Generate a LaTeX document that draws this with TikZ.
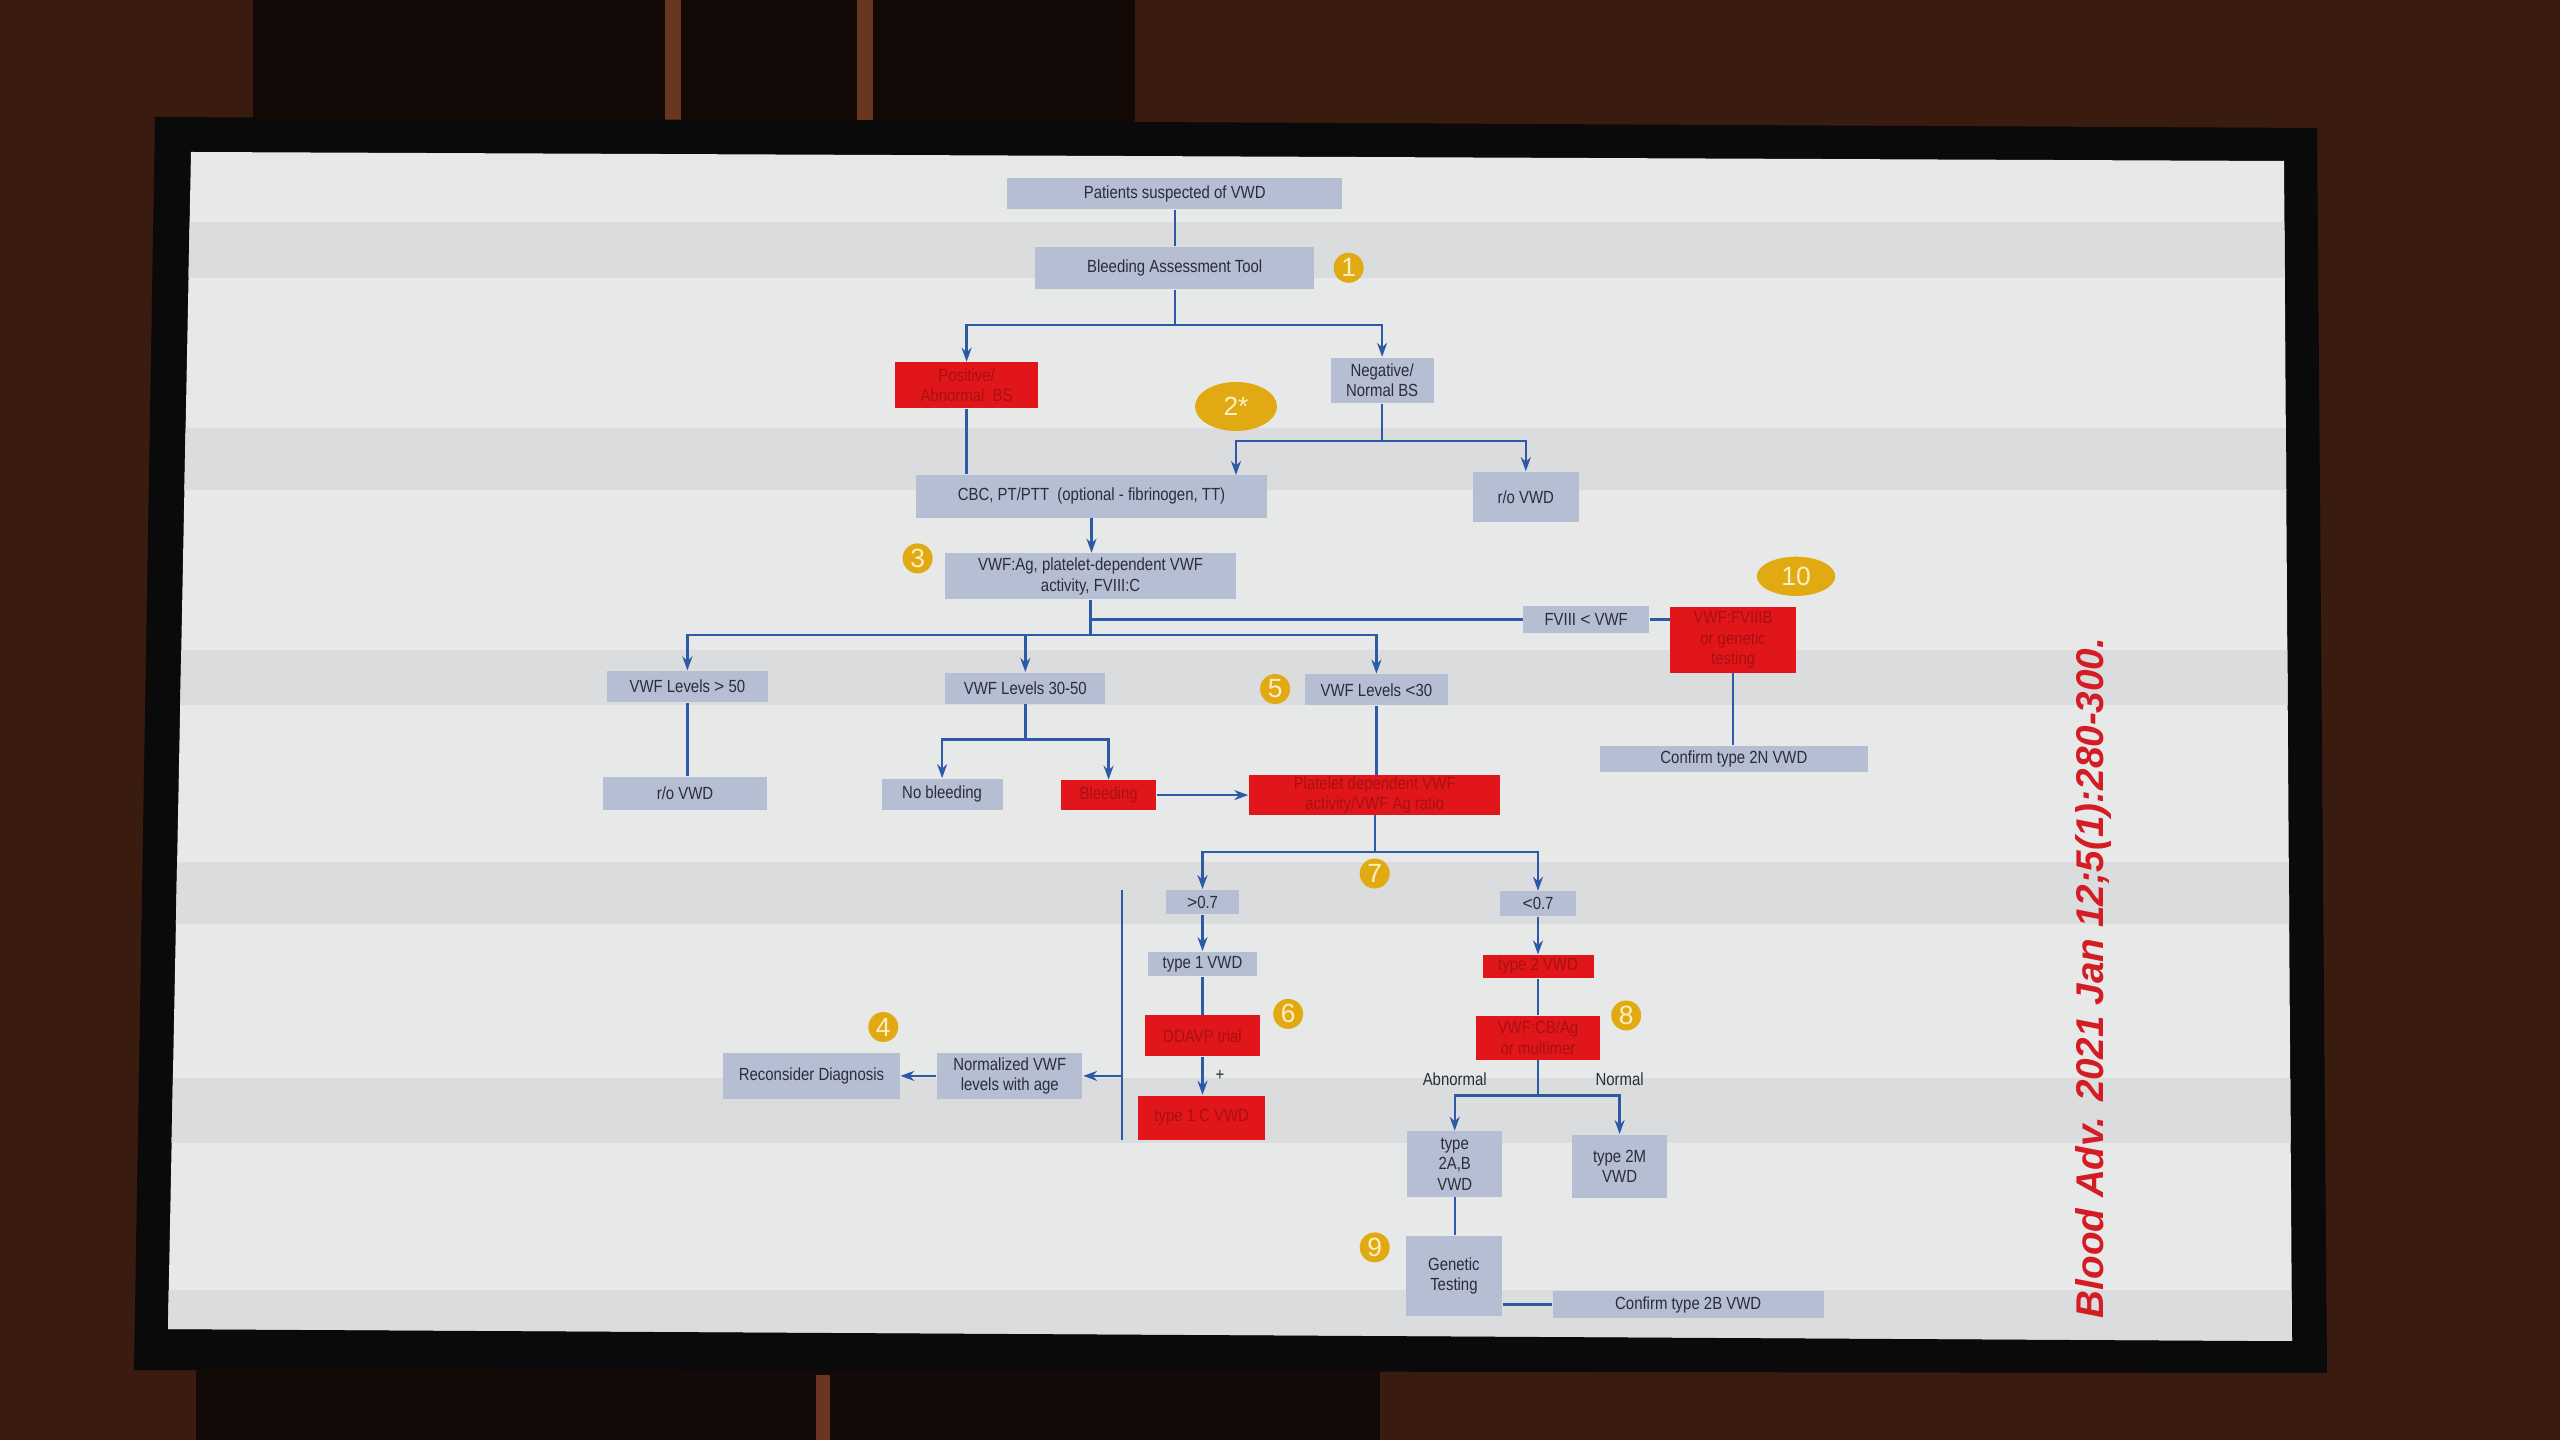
\documentclass[tikz,border=0pt]{standalone}
\usepackage{fontspec}
\usetikzlibrary{arrows.meta,shapes.geometric}
\newfontfamily\chartfont[FakeStretch=0.85]{Liberation Sans}
\newfontfamily\citefont{Liberation Sans}
\definecolor{wallbrown}{HTML}{3A1B10}
\definecolor{walldark}{HTML}{130A08}
\definecolor{wallstrip}{HTML}{6A3620}
\definecolor{bezel}{HTML}{0B0A0A}
\definecolor{screen}{HTML}{E7E9E9}
\definecolor{band}{HTML}{DADCDD}
\definecolor{boxfill}{HTML}{B6BED3}
\definecolor{boxtext}{HTML}{2A2D3A}
\definecolor{redfill}{HTML}{E0161A}
\definecolor{redtext}{HTML}{A81012}
\definecolor{linkblue}{HTML}{2D5AA6}
\definecolor{badgefill}{HTML}{E1AA12}
\definecolor{badgetext}{HTML}{FCEFC4}
\definecolor{citered}{HTML}{D41C24}
\tikzset{
  wbox/.style={fill=boxfill, text=boxtext, inner sep=0pt, align=center,
    font=\chartfont\fontsize{5}{5.8}\selectfont},
  rbox/.style={wbox, fill=redfill, text=redtext},
  link/.style={draw=linkblue, line width=0.024cm},
  arr/.style={link, -{Stealth[length=0.14cm,width=0.10cm]}},
  badge/.style={circle, fill=badgefill, text=badgetext, inner sep=0pt,
    minimum size=0.30cm, font=\citefont\fontsize{7.5}{8}\selectfont},
  oval/.style={badge, ellipse},
  chartlabel/.style={text=boxtext, inner sep=0pt,
    font=\chartfont\fontsize{5}{5.8}\selectfont},
}
\begin{document}
\begin{tikzpicture}
                \useasboundingbox (0,0) rectangle (25.600000,14.400000);
                
                % Wall behind the monitor
                \fill [wallbrown] (0,0) rectangle (25.600000,14.400000);%
                \fill [walldark] (2.530000,13.100000) rectangle (11.350000,14.400000);%
                \fill [wallstrip] (6.650000,13.200000) rectangle (6.810000,14.400000);%
                \fill [wallstrip] (8.570000,13.200000) rectangle (8.730000,14.400000);%
                \fill [walldark] (1.960000,0) rectangle (13.800000,0.800000);%
                \fill [wallstrip] (8.160000,0) rectangle (8.300000,0.650000);%
                
                % Monitor bezel and screen
                \fill [bezel] (1.550000,13.230000) -- (23.170000,13.120000) -- (23.270000,0.670000) -- (1.340000,0.700000) -- cycle;%
                \fill [screen] (1.910000,12.880000) -- (22.840000,12.790000) -- (22.920000,0.990000) -- (1.680000,1.110000) -- cycle;%
                
                % Moire bands across the screen
                \begin{scope}
                \clip (1.910000,12.880000) -- (22.840000,12.790000) -- (22.920000,0.990000) -- (1.680000,1.110000) -- cycle;%
                \fill [band] (0,11.624000) rectangle (25.600000,12.180000);%
                \fill [band] (0,9.502000) rectangle (25.600000,10.122000);%
                \fill [band] (0,7.347000) rectangle (25.600000,7.902000);%
                \fill [band] (0,5.159000) rectangle (25.600000,5.780000);%
                \fill [band] (0,2.971000) rectangle (25.600000,3.624000);%
                \fill [band] (0,0.990000) rectangle (25.600000,1.502000);%
                \end{scope}
                
                % Marking box Patients
                \node (patients) [wbox, minimum width=3.347cm, minimum height=0.310cm] at (11.747000,12.465000) {Patients suspected of VWD};%
                
                % Marking box Bleeding Assessment Tool
                \node (bat) [wbox, minimum width=2.792cm, minimum height=0.425cm] at (11.747000,11.722000) {Bleeding Assessment Tool};%
                \node (b1) [badge] at (13.486000,11.722000) {1};%
                
                % Marking boxes Positive and Negative
                \node (pos) [rbox, minimum width=1.437cm, minimum height=0.457cm] at (9.666000,10.547000) {Positive/\\Abnormal\ \ BS};%
                \node (neg) [wbox, minimum width=1.029cm, minimum height=0.457cm] at (13.821000,10.596000) {Negative/\\Normal BS};%
                \node (b2) [oval, minimum width=0.820cm, minimum height=0.490cm] at (12.360000,10.335000) {2*};%
                
                % Marking boxes CBC and r/o VWD
                \node (cbc) [wbox, minimum width=3.510cm, minimum height=0.425cm] at (10.915000,9.437000) {CBC, PT/PTT\ \ (optional - fibrinogen, TT)};%
                \coordinate (cbcin) at (12.360000,9.649500);%
                \node (rovwda) [wbox, minimum width=1.061cm, minimum height=0.506cm] at (15.258000,9.428000) {r/o VWD};%
                
                % Marking box VWF:Ag
                \node (ag) [wbox, minimum width=2.906cm, minimum height=0.457cm] at (10.906000,8.637000) {VWF:Ag, platelet-dependent VWF\\activity, FVIII:C};%
                \node (b3) [badge] at (9.176000,8.816000) {3};%
                
                % Marking boxes FVIII < VWF, VWF:FVIIIB and type 2N
                \node (fviii) [wbox, minimum width=1.257cm, minimum height=0.261cm] at (15.862000,8.205000) {FVIII {\fontspec{Liberation Sans}<} VWF};%
                \node (fviiib) [rbox, minimum width=1.257cm, minimum height=0.653cm] at (17.331000,8.000000) {VWF:FVIIIB\\or genetic\\testing};%
                \node (b10) [oval, minimum width=0.784cm, minimum height=0.392cm] at (17.960000,8.637000) {10};%
                \node (confirmn) [wbox, minimum width=2.678cm, minimum height=0.261cm] at (17.339000,6.808000) {Confirm type 2N VWD};%
                
                % Marking boxes VWF Levels
                \node (levhigh) [wbox, minimum width=1.616cm, minimum height=0.310cm] at (6.874000,7.534000) {VWF Levels {\fontspec{Liberation Sans}>} 50};%
                \node (levmid) [wbox, minimum width=1.600cm, minimum height=0.310cm] at (10.253000,7.518000) {VWF Levels 30-50};%
                \node (levlow) [wbox, minimum width=1.437cm, minimum height=0.310cm] at (13.764000,7.502000) {VWF Levels {\fontspec{Liberation Sans}<}30};%
                \node (b5) [badge] at (12.751000,7.510000) {5};%
                
                % Marking boxes of the level outcomes
                \node (rovwdb) [wbox, minimum width=1.633cm, minimum height=0.327cm] at (6.850000,6.465000) {r/o VWD};%
                \node (nobleed) [wbox, minimum width=1.208cm, minimum height=0.310cm] at (9.421000,6.457000) {No bleeding};%
                \node (bleed) [rbox, minimum width=0.947cm, minimum height=0.294cm] at (11.086000,6.449000) {Bleeding};%
                \node (ratio) [rbox, minimum width=2.514cm, minimum height=0.392cm] at (13.747000,6.449000) {Platelet dependent VWF\\activity/VWF Ag ratio};%
                \node (b7) [badge] at (13.747000,5.665000) {7};%
                
                % Marking boxes of the ratio outcomes
                \node (ratiohi) [wbox, minimum width=0.735cm, minimum height=0.245cm] at (12.025000,5.379000) {{\fontspec{Liberation Sans}>}0.7};%
                \node (ratiolo) [wbox, minimum width=0.751cm, minimum height=0.245cm] at (15.380000,5.363000) {{\fontspec{Liberation Sans}<}0.7};%
                \node (typeone) [wbox, minimum width=1.094cm, minimum height=0.245cm] at (12.025000,4.759000) {type 1 VWD};%
                \node (typetwo) [rbox, minimum width=1.110cm, minimum height=0.229cm] at (15.380000,4.734000) {type 2 VWD};%
                \node (ddavp) [rbox, minimum width=1.159cm, minimum height=0.408cm] at (12.025000,4.041000) {DDAVP trial};%
                \node (b6) [badge] at (12.882000,4.261000) {6};%
                \node (cbag) [rbox, minimum width=1.241cm, minimum height=0.441cm] at (15.380000,4.024000) {VWF:CB/Ag\\or multimer};%
                \node (b8) [badge] at (16.262000,4.245000) {8};%
                \node (typeonec) [rbox, minimum width=1.274cm, minimum height=0.441cm] at (12.017000,3.224000) {type 1 C VWD};%
                
                % Marking boxes Reconsider Diagnosis and Normalized
                \node (reconsider) [wbox, minimum width=1.763cm, minimum height=0.457cm] at (8.115000,3.641000) {Reconsider Diagnosis};%
                \node (normal) [wbox, minimum width=1.453cm, minimum height=0.457cm] at (10.098000,3.641000) {Normalized VWF\\levels with age};%
                \node (b4) [badge] at (8.833000,4.130000) {4};%
                \coordinate (bartop) at (11.217000,5.502000);%
                \coordinate (barbot) at (11.217000,3.004000);%
                
                % Marking boxes of type 2
                \node (typeab) [wbox, minimum width=0.947cm, minimum height=0.653cm] at (14.547000,2.759000) {type\\2A,B\\VWD};%
                \node (typem) [wbox, minimum width=0.947cm, minimum height=0.637cm] at (16.196000,2.734000) {type 2M\\VWD};%
                \node (genetic) [wbox, minimum width=0.963cm, minimum height=0.800cm] at (14.539000,1.640000) {Genetic\\Testing};%
                \node (b9) [badge] at (13.747000,1.926000) {9};%
                \node (confirmb) [wbox, minimum width=2.710cm, minimum height=0.261cm] at (16.882000,1.355000) {Confirm type 2B VWD};%
                
                % Drawing the top connectors
                \draw [link] (patients) -- (bat);%
                \coordinate (splita) at (11.747000,11.151000);%
                \draw [link] (bat.south) -- (splita);%
                \draw [arr] (splita) -| (pos.north);%
                \draw [arr] (splita) -| (neg.north);%
                \draw [link] (pos.south) -- (pos.south |- cbc.north);%
                \coordinate (splitb) at (13.821000,9.992000);%
                \draw [link] (neg.south) -- (splitb);%
                \draw [arr] (splitb) -| (cbcin);%
                \draw [arr] (splitb) -| (rovwda.north);%
                \draw [arr] (cbc.south) -- (cbc.south |- ag.north);%
                
                % Drawing the connectors below VWF:Ag
                \coordinate (splitc) at (10.906000,8.049000);%
                \draw [link] (ag.south) -- (splitc);%
                \draw [link] (ag.south |- fviii.west) -- (fviii.west);%
                \draw [link] (fviii.east) -- (fviii.east -| fviiib.west);%
                \draw [link] (fviiib.south) -- (fviiib.south |- confirmn.north);%
                \draw [arr] (splitc) -| (levhigh.north);%
                \draw [arr] (splitc) -| (levmid.north);%
                \draw [arr] (splitc) -| (levlow.north);%
                \draw [link] (levhigh.south) -- (levhigh.south |- rovwdb.north);%
                \coordinate (splitd) at (10.253000,7.004000);%
                \draw [link] (levmid.south) -- (splitd);%
                \draw [arr] (splitd) -| (nobleed.north);%
                \draw [arr] (splitd) -| (bleed.north);%
                \draw [arr] (bleed.east) -- (ratio.west);%
                \draw [link] (levlow.south) -- (levlow.south |- ratio.north);%
                
                % Drawing the connectors below the ratio
                \coordinate (splite) at (13.747000,5.877000);%
                \draw [link] (ratio.south) -- (splite);%
                \draw [arr] (splite) -| (ratiohi.north);%
                \draw [arr] (splite) -| (ratiolo.north);%
                \draw [arr] (ratiohi.south) -- (typeone.north);%
                \draw [link] (typeone.south) -- (ddavp.north);%
                \draw [arr] (ddavp.south) -- (ddavp.south |- typeonec.north) node [chartlabel, midway, right=0.12cm] {+};%
                \draw [arr] (ratiolo.south) -- (typetwo.north);%
                \draw [link] (typetwo.south) -- (cbag.north);%
                \coordinate (splitf) at (15.380000,3.445000);%
                \draw [link] (cbag.south) -- (splitf);%
                \draw [arr] (splitf) -| (typeab.north);%
                \draw [arr] (splitf) -| (typem.north);%
                \node (abn) [chartlabel] at (14.547000,3.608000) {Abnormal};%
                \node (nrm) [chartlabel] at (16.196000,3.608000) {Normal};%
                \draw [link] (typeab.south) -- (typeab.south |- genetic.north);%
                \draw [link] (genetic.east |- confirmb.west) -- (confirmb.west);%
                
                % Drawing the bar and the age arrows
                \draw [link] (bartop) -- (barbot);%
                \draw [arr] (bartop |- normal.east) -- (normal.east);%
                \draw [arr] (normal.west) -- (reconsider.east);%
                
                % Marking the citation
                \node (cite) [rotate=90, text=citered, inner sep=0pt, font=\citefont\bfseries\itshape\fontsize{11}{12}\selectfont] at (20.930000,4.620000) {Blood Adv. 2021 Jan 12;5(1):280-300.};%
\end{tikzpicture}
\end{document}
